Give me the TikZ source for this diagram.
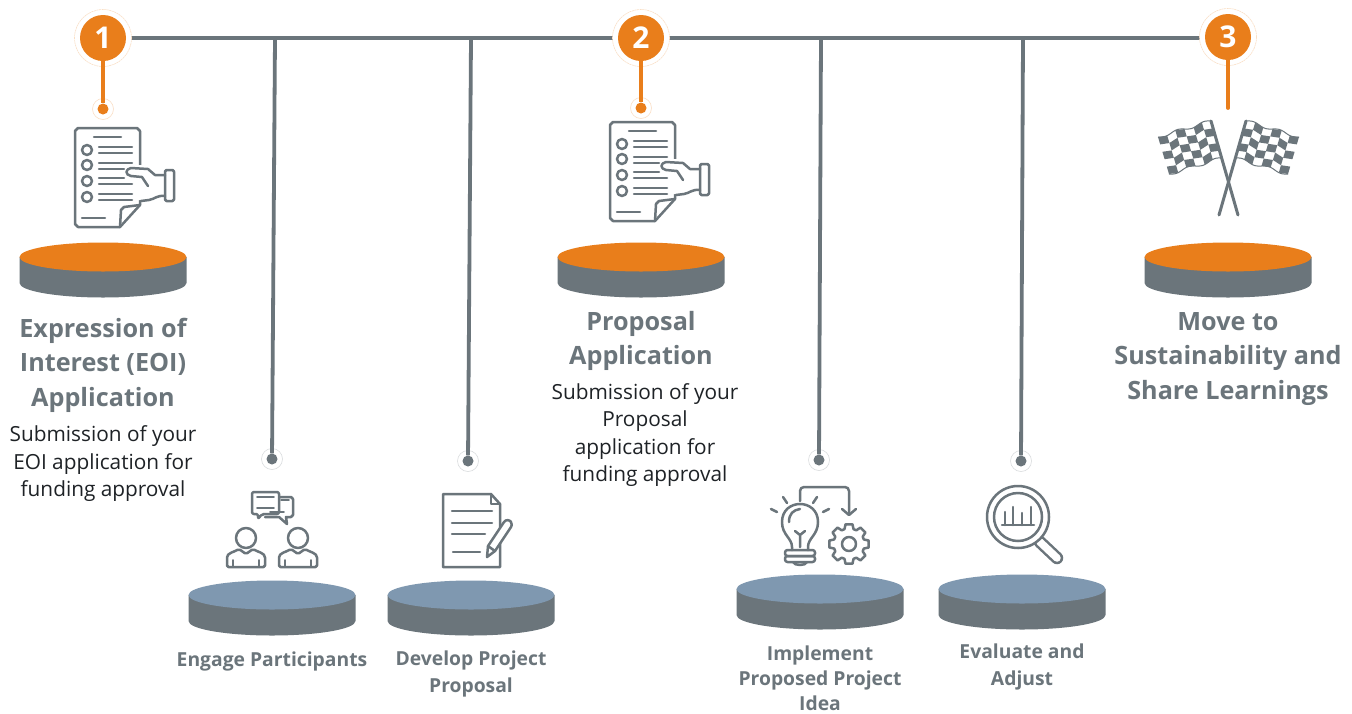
\documentclass[tikz,border=0pt]{standalone}
\usepackage{fontspec}
\setmainfont{Open Sans}
\usetikzlibrary{arrows.meta}
\definecolor{slategrey}{HTML}{6B757B}
\definecolor{brandor}{HTML}{E97E1B}
\definecolor{discblue}{HTML}{7F98B0}
\definecolor{bodyink}{HTML}{1E2226}
\tikzset{
  mainline/.style={draw=slategrey,line width=4.4pt},
  stemline/.style={draw=slategrey,line width=3.8pt},
  orline/.style={draw=brandor,line width=3.8pt},
  badge/.style={circle,fill=brandor,text=white,minimum size=46pt,inner sep=0pt,font=\fontsize{30}{30}\selectfont\bfseries},
  halo/.style={circle,draw=brandor!25,line width=.6pt,dash pattern=on 2pt off .6pt,fill=white,minimum size=57pt,inner sep=0pt},
  enddot/.style={circle,fill=#1,minimum size=11pt,inner sep=0pt},
  endhalo/.style={circle,draw=#1!25,line width=.6pt,fill=white,minimum size=21pt,inner sep=0pt},
  title/.style={text=slategrey,align=center,font=\fontsize{25.2}{34.5}\selectfont\bfseries},
  desc/.style={text=bodyink,align=center,font=\fontsize{20.8}{27.5}\selectfont},
  small/.style={text=slategrey,align=center,font=\fontsize{19.3}{26.5}\selectfont\bfseries},
  smalltight/.style={text=slategrey,align=center,font=\fontsize{19.3}{25}\selectfont\bfseries},
  icon/.style={draw=slategrey,line width=2.5pt,line cap=round,line join=round},
  pics/disc/.style={code={
    \fill[slategrey] (-83.5,0) -- (-83.5,26) arc[start angle=180,end angle=360,x radius=83.5,y radius=-14.5] -- (83.5,0) -- cycle;
    \fill[#1] (0,0) ellipse[x radius=83.5,y radius=14.5];
  }},
  pics/checklist/.style={code={
    \draw[icon] (120,227) -- (78,227) -- ++(-3,-3) -- (75,131) -- ++(3,-3) -- (137,128) -- ++(3,3) -- (140,205) -- cycle;
    \draw[icon] (140,205) -- (124,207) -- (121,210) -- (120,227);
    \draw[icon] (94,137) -- (121,137) (82,218) -- (105,218);
    \foreach \yy in {150,165,181,197} \draw[icon] (87,\yy) circle[radius=5];
    \foreach \yy/\xx in {147/132,153/132,163/132,169/124,178/124,184/132,194/132,200/132} \draw[icon] (99,\yy) -- (\xx,\yy);
    \fill[white] (128,165) rectangle (165,182) (135,176) rectangle (165,200);
    \draw[icon] (165,175) -- (155,175) -- (148,169) -- (131,168) .. controls (125,169) and (125,175) .. (131,176) -- (142,177) -- (148,186);
    \draw[icon] (141,201) -- (149,200) .. controls (155,199) and (157,195) .. (165,196);
    \draw[icon,rounded corners=1.5pt] (165,170) rectangle (174,201);
  }},
  pics/flag/.style={code={
    \begin{scope}[shift={(1158,137)},x={(53pt,16pt)},y={(11pt,-37pt)}]
      \draw[slategrey,line width=1pt] plot[domain=0:1,samples=30,smooth] (\x,{.04*sin(\x*720)});
      \draw[slategrey,line width=1pt] plot[domain=0:1,samples=30,smooth] (\x,{1+.04*sin(\x*720)});
      \foreach \i in {0,...,5} \foreach \j in {0,...,4} {
        \pgfmathtruncatemacro{\chk}{mod(\i+\j,2)}
        \ifnum\chk=0
          \pgfmathsetmacro{\ua}{\i/6}\pgfmathsetmacro{\ub}{(\i+1)/6}
          \pgfmathsetmacro{\wa}{.04*sin(\ua*720)}\pgfmathsetmacro{\wb}{.04*sin(\ub*720)}
          \fill[slategrey] (\ua,{\j/5+\wa}) -- (\ub,{\j/5+\wb}) -- (\ub,{(\j+1)/5+\wb}) -- (\ua,{(\j+1)/5+\wa}) -- cycle;
        \fi
      }
    \end{scope}
    \draw[slategrey,line width=3pt,line cap=round] (1211,121) -- (1238,215);
  }}
}
\begin{document}
\begin{tikzpicture}[x=1pt,y=-1pt]
\useasboundingbox (0,0) rectangle (1352,713);
\fill[white] (0,0) rectangle (1352,713);

% end points and junctions
\coordinate (j1) at (275,38);
\coordinate (j2) at (471,38);
\coordinate (j3) at (821,38);
\coordinate (j4) at (1023,38);
\coordinate (c3) at (1228,108);

% halos
\node[endhalo=brandor] (h1) at (103,109) {};
\node[endhalo=brandor] (h2) at (641,108) {};
\node[endhalo=slategrey] (ha) at (272,459) {};
\node[endhalo=slategrey] (hb) at (468,461) {};
\node[endhalo=slategrey] (hc) at (819,460) {};
\node[endhalo=slategrey] (hd) at (1021,461) {};

\node[enddot=brandor] (d1) at (103,109) {};
\node[enddot=brandor] (d2) at (641,108) {};
\node[enddot=slategrey] (da) at (272,459) {};
\node[enddot=slategrey] (db) at (468,461) {};
\node[enddot=slategrey] (dc) at (819,460) {};
\node[enddot=slategrey] (dd) at (1021,461) {};

% connectors
\draw[stemline] (j1) -- (da);
\draw[stemline] (j2) -- (db);
\draw[stemline] (j3) -- (dc);
\draw[stemline] (j4) -- (dd);
\draw[orline] (103,38) -- (d1);
\draw[orline] (641,38) -- (d2);
\draw[orline,line cap=round] (1228,38) -- (c3);
\draw[mainline] (103,38) -- (j1) -- (j2) -- (641,38) -- (j3) -- (j4) -- (1228,38);

% badges
\node[halo] (o1) at (103,38) {};
\node[halo] (o2) at (641,38) {};
\node[halo] (o3) at (1228,37) {};
\node[badge] (n1) at (103,38) {1};
\node[badge] (n2) at (641,38) {2};
\node[badge] (n3) at (1228,37) {3};
\draw[orline] (n1.south) -- (103,70);
\draw[orline] (n2.south) -- (641,70);
\draw[orline] (n3.south) -- (1228,70);

% discs
\pic at (103,257) {disc=brandor};
\pic at (641,257) {disc=brandor};
\pic at (1228,257) {disc=brandor};
\pic at (272,595) {disc=discblue};
\pic at (471,595) {disc=discblue};
\pic at (820,589) {disc=discblue};
\pic at (1022,589) {disc=discblue};

% icons
\pic at (0,0) {checklist};
\pic at (535,-6) {checklist};

\pic at (0,0) {flag};
\begin{scope}[xshift=2457pt,xscale=-1]
\pic[transform shape] at (0,0) {flag};
\end{scope}

% people
\draw[icon] (279,497) -- (291,497) -- ++(2,2) -- (293,515) -- ++(-2,2) -- (286,517) -- (287,524) -- (279,517) -- (265,517);
\draw[icon,fill=white,rounded corners=2pt] (252,492) -- (279,492) -- (279,514) -- (262,514) -- (258,519) -- (258,514) -- (252,514) -- cycle;
\draw[icon,line width=1.8pt] (257,497) -- (274,497) (257,508) -- (274,508) (281,500) -- (289,500) (284,512) -- (270,512);
\foreach \cx in {246,298} {
  \draw[icon] (\cx,538) circle[radius=10];
  \draw[icon,rounded corners=1.5pt] (\cx-19,567) -- (\cx-19,559) .. controls (\cx-19,553) and (\cx-12,552) .. (\cx-7,549) -- (\cx,554) -- (\cx+7,549) .. controls (\cx+12,552) and (\cx+19,553) .. (\cx+19,559) -- (\cx+19,567) -- cycle;
  \draw[icon,line width=1.6pt] (\cx-13,567) -- (\cx-13,560) (\cx+13,567) -- (\cx+13,560);
}

% document and pencil
\draw[icon,line cap=butt] (491,494) -- (443,494) -- (443,567) -- (500,567) -- (500,504) -- cycle;
\draw[icon] (491,494) -- (491,504) -- (500,504);
\draw[icon] (452,511) -- (492,511) (452,523) -- (492,523) (452,534) -- (485,534) (453,552) -- (480,552);
\draw[icon,fill=white] (487,557) -- (488,546) -- (504,522) .. controls (506,519) and (510,520) .. (511,522) .. controls (512,524) and (512,526) .. (511,527) -- (495,551) -- cycle;
\draw[icon] (488,546) -- (495,551);

% bulb
\draw[icon] (792,550) -- (792,547) .. controls (792,538) and (782,535) .. (782,522) .. controls (782,498) and (818,498) .. (818,522) .. controls (818,535) and (808,538) .. (808,547) -- (808,550);
\draw[icon] (789,522) .. controls (789,514) and (793,510) .. (800,509);
\draw[icon] (795,531) -- (800,535) -- (805,531) (800,535) -- (800,547);
\draw[icon,rounded corners=2.5pt] (785,550) rectangle (815,556);
\draw[icon,rounded corners=2.5pt] (785,556) rectangle (815,562);
\draw[icon] (793,562) .. controls (794,566) and (806,566) .. (807,562);
\draw[icon] (771,509) -- (777,512) (783,497) -- (787,503) (817,497) -- (813,503) (829,509) -- (823,512);
\draw[icon,rounded corners=4pt] (800,501) -- (800,487) -- (849,487) -- (849,513);
\draw[icon] (842,509) -- (849,515) -- (856,509);
% gear
\draw[icon] (849,544) circle[radius=7];
\begin{scope}[shift={(849,544)}]
\draw[icon] (10:20) \foreach \a in {0,45,...,315} { -- (\a+10:20) -- (\a+17:15.5) -- (\a+28:15.5) -- (\a+35:20) } -- cycle;
\end{scope}

% magnifier
\draw[slategrey,line width=12.5pt,line cap=round] (1040,542) -- (1057,558);
\draw[white,line width=7.5pt,line cap=round] (1040,542) -- (1057,558);
\draw[icon,fill=white] (1018,517) circle[radius=31];
\draw[icon] (1018,517) circle[radius=24];
\draw[icon] (1002,525) -- (1034,525) (1005,525) -- (1005,512) (1013,525) -- (1013,507) (1022,525) -- (1022,513) (1031,525) -- (1031,507);

% texts
\node[title] (t1) at (103,365) {Expression of\\Interest (EOI)\\Application};
\node[desc] (s1) at (103,464) {Submission of your\\EOI application for\\funding approval};
\node[title] (t2) at (641,341) {Proposal\\Application};
\node[desc] (s2) at (645,435) {Submission of your\\Proposal\\application for\\funding approval};
\node[title] (t3) at (1228,359) {Move to\\Sustainability and\\Share Learnings};
\node[small] (la) at (272,661) {Engage Participants};
\node[small] (lb) at (471,674) {Develop Project\\Proposal};
\node[smalltight] (lc) at (820,678) {Implement\\Proposed Project\\Idea};
\node[small] (ld) at (1022,667) {Evaluate and\\Adjust};
\end{tikzpicture}
\end{document}
